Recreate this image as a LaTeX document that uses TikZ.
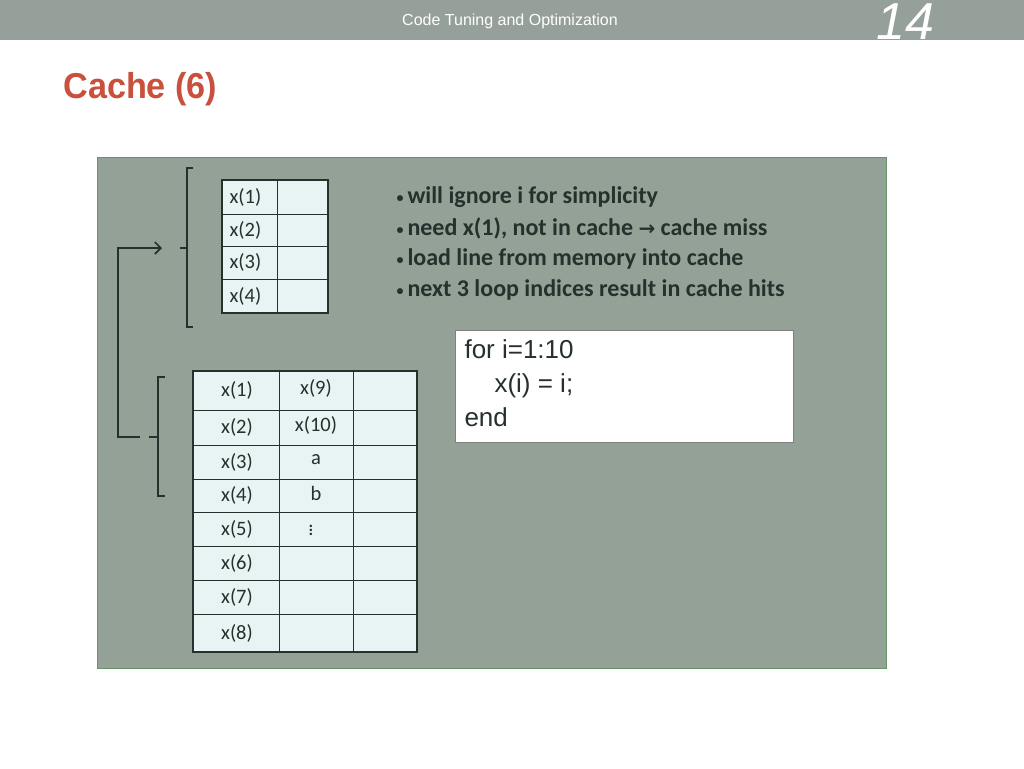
\documentclass[tikz,border=0pt]{standalone}
\usepackage{fontspec}
\setmainfont{Carlito}
\newfontfamily\arialfont{Liberation Sans}
\newfontfamily\symfont{DejaVu Sans}
\usetikzlibrary{positioning,arrows.meta}
\tikzset{>={Straight Barb[length=6pt,width=12pt]}}
\definecolor{bandgray}{RGB}{150,160,155}
\definecolor{panelgray}{RGB}{148,161,151}
\definecolor{cellblue}{RGB}{232,244,244}
\definecolor{inkdark}{RGB}{38,48,44}
\definecolor{titlered}{RGB}{200,80,60}
\newcommand\dotmark{{\fontsize{14}{14}\selectfont\raisebox{1pt}{•}}\,}
\tikzset{
  cell/.style={fill=cellblue,draw=inkdark,line width=0.8pt},
  celltext/.style={font=\fontsize{20.5}{22}\selectfont,text=inkdark},
  bullet/.style={font=\bfseries\fontsize{24}{26}\selectfont,text=inkdark,anchor=west},
  brace/.style={draw=inkdark,line width=1.6pt},
}
\begin{document}
\begin{tikzpicture}[x=1pt,y=-1pt]
\useasboundingbox (0,0) rectangle (1024,768);
\fill[white] (0,0) rectangle (1024,768);
% header
\fill[bandgray] (0,0) rectangle (1024,40);
\node[font=\arialfont\fontsize{16}{18}\selectfont,text=white] (head) at (510,21) {Code Tuning and Optimization};
\node[font=\arialfont\itshape\fontsize{52}{56}\selectfont,text=white] (num) at (905,22) {14};
\node[font=\arialfont\bfseries\fontsize{36}{40}\selectfont,text=titlered,anchor=west,xscale=0.95] (title) at (60,89) {Cache (6)};
% panel
\fill[panelgray,draw=green!30!black!60,line width=0.8pt] (97,157) rectangle (886,668);

% cache line
\foreach \ya/\yb/\t in {180/214/x(1),214/246/x(2),246/279/x(3),279/313/x(4)} {
  \draw[cell] (222,\ya) rectangle (277,\yb);
  \draw[cell] (277,\ya) rectangle (328,\yb);
  \node[celltext,anchor=west] at (226,{(\ya+\yb)/2}) {\t};
}
\draw[inkdark,line width=2pt] (222,180) rectangle (328,313);

% memory
\foreach \ya/\yb/\ta/\tb [count=\i] in {371/410/x(1)/x(9),410/445/x(2)/x(10),445/479/x(3)/a,479/512/x(4)/b,512/546/x(5)/{},546/580/x(6)/{},580/614/x(7)/{},614/652/x(8)/{}} {
  \draw[cell] (193,\ya) rectangle (279,\yb);
  \draw[cell] (279,\ya) rectangle (353,\yb);
  \draw[cell] (353,\ya) rectangle (417,\yb);
  \node[celltext] (m\i) at (237,{(\ya+\yb)/2}) {\ta};
  \node[celltext] (n\i) at (316,{(\ya+\yb)/2-2}) {\tb};
}
\node[celltext,inner sep=0pt] (dots) at (311,527) {$\vdots$};
\draw[inkdark,line width=2pt] (193,371) rectangle (417,652);

% braces
\draw[brace] (193,168) -- (187,168) -- (187,327) -- (193,327);
\draw[brace] (187,248) -- (180,248);
\draw[brace] (165,377) -- (158,377) -- (158,496) -- (165,496);
\draw[brace] (158,437) -- (149,437);
\coordinate (lowout) at (140,437);
\coordinate (turn) at (118,437);
\coordinate (tip) at (162,248);
\draw[inkdark,line width=1.6pt,->] (lowout) -- (turn) |- (tip);

% notes
\node[bullet] (b1) at (393,197) {\dotmark will ignore i for simplicity};
\node[bullet] (b2) at (393,228) {\dotmark need x(1), not in cache {\symfont\bfseries\fontsize{20}{24}\selectfont →} cache miss};
\node[bullet] (b3) at (393,259) {\dotmark load line from memory into cache};
\node[bullet] (b4) at (393,290) {\dotmark next 3 loop indices result in cache hits};

% code
\draw[fill=white,draw=gray,line width=0.8pt] (455,330) rectangle (793,442);
\node[font=\arialfont\fontsize{26}{34}\selectfont,text=inkdark,anchor=north west,align=left] (code) at (461,336) {for i=1:10\\\hspace{30pt}x(i) = i;\\end};
\end{tikzpicture}
\end{document}
